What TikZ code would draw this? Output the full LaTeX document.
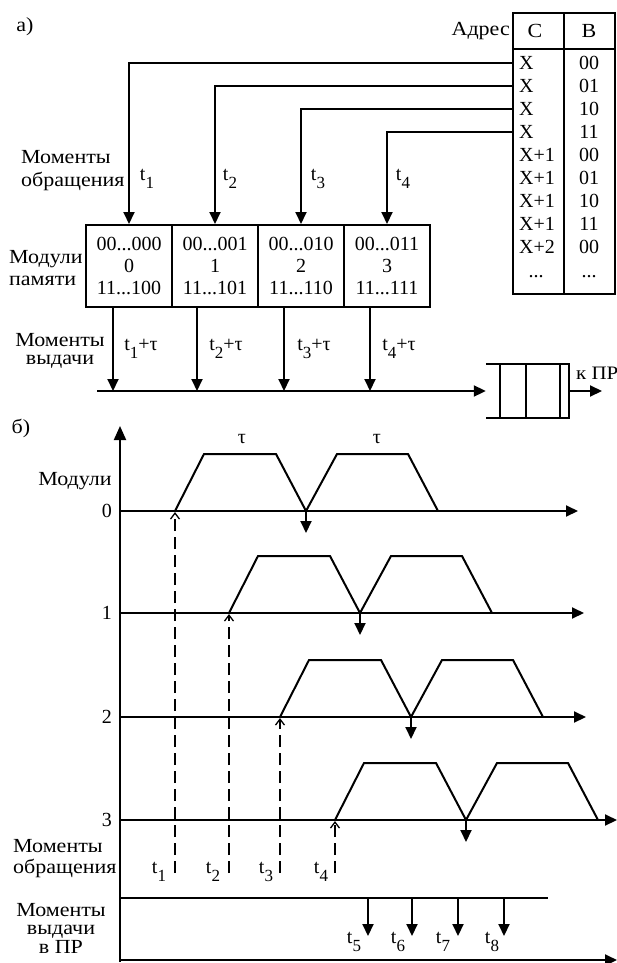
\documentclass[tikz,border=0pt]{standalone}
\usepackage{fontspec}
\setmainfont{Liberation Serif}
\newfontfamily\cyr{Liberation Serif}[FakeStretch=1.1]
\usetikzlibrary{arrows.meta}
\newcommand\tsub[1]{\raisebox{-0.38em}{\fontsize{17}{17}\selectfont #1}}
\begin{document}
\begin{tikzpicture}[x=1pt,y=-1pt,
  every node/.style={inner sep=0pt,font=\fontsize{20}{22}\selectfont},
  ln/.style={line width=2pt},
  arr/.style={ln,-{Triangle[length=12pt,width=11pt]}},
  barb/.style={line width=1.5pt,dash pattern=on 12pt off 6pt,-{Straight Barb[length=6pt,width=9pt,line width=1.3pt]}},
  modbox/.style={draw,ln,minimum width=86pt,minimum height=82pt,align=center},
  cy/.style={font=\cyr\fontsize{20}{#1}\selectfont},
  cy/.default=22,
  wave/.style={ln,line join=miter}]
\useasboundingbox (0,0) rectangle (617,963);

% ---------------- part a ----------------
\node[cy] (la) at (25,27) {а)};

% table
\coordinate (tl) at (513,13);
\draw[ln] (tl) rectangle (615,294);
\draw[ln] (564,13) -- (564,294);
\draw[ln] (513,49) -- (615,49);
\node[cy,anchor=east] (adr) at (510,31) {Адрес};
\node[cy] (hc) at (535,31) {С};
\node[cy] (hb) at (589,31) {В};
\foreach \i/\y/\c/\b in {1/63/X/00,2/86/X/01,3/109/X/10,4/132/X/11,5/155/X+1/00,6/178/X+1/01,7/201/X+1/10,8/224/X+1/11,9/247/X+2/00}{
  \node[anchor=west] (c\i) at (519,\y) {\c};
  \node (b\i) at (589,\y) {\b};
}
\node[anchor=base,text height=3pt,text depth=0pt] (c10) at (536,277) {...};
\node[anchor=base,text height=3pt,text depth=0pt] (b10) at (589,277) {...};

% memory modules
\node[modbox] (m0) at (129,266) {00...000\\0\\11...100};
\node[modbox] (m1) at (215,266) {00...001\\1\\11...101};
\node[modbox] (m2) at (301,266) {00...010\\2\\11...110};
\node[modbox] (m3) at (387,266) {00...011\\3\\11...111};

% address lines
\draw[arr] (c1.west -| tl) -| (m0.north);
\draw[arr] (c2.west -| tl) -| (m1.north);
\draw[arr] (c3.west -| tl) -| (m2.north);
\draw[arr] (c4.west -| tl) -| (m3.north);

\node[cy=23,anchor=west,align=left] (mo1) at (21,171) {Моменты\\обращения};
\node (t1a) at (147,179) {t\tsub{1}};
\node (t2a) at (230,179) {t\tsub{2}};
\node (t3a) at (318,179) {t\tsub{3}};
\node (t4a) at (403,179) {t\tsub{4}};
\node[cy,anchor=west,align=left] (mp) at (9,268) {Модули\\памяти};

% output lines
\coordinate (o0) at (113,391);
\coordinate (o1) at (197,391);
\coordinate (o2) at (284,391);
\coordinate (o3) at (370,391);
\draw[arr] (m0.south -| o0) -- (o0);
\draw[arr] (m1.south -| o1) -- (o1);
\draw[arr] (m2.south -| o2) -- (o2);
\draw[arr] (m3.south -| o3) -- (o3);
\node[cy=18.5,align=center] (mv1) at (60,351) {Моменты\\выдачи};
\node (u1) at (141,349) {t\tsub{1}+τ};
\node (u2) at (226,349) {t\tsub{2}+τ};
\node (u3) at (314,349) {t\tsub{3}+τ};
\node (u4) at (399,349) {t\tsub{4}+τ};

% queue
\node[minimum width=83pt,minimum height=54pt] (q) at (527.5,391) {};
\coordinate (bus) at (97,391);
\draw[arr] (bus) -- (q.west);
\draw[ln] (q.north west) -- (q.north east) -- (q.south east) -- (q.south west);
\draw[ln] (500,364) -- (500,418);
\draw[ln] (526,364) -- (526,418);
\draw[ln] (560,364) -- (560,418);
\coordinate (qo) at (602,391);
\draw[arr] (q.east) -- (qo);
\node[anchor=west,font=\cyr\fontsize{19}{20}\selectfont] (kpr) at (576,373) {к ПР};

% ---------------- part b ----------------
\node[cy] (lb) at (21,428) {б)};
\coordinate (ax0) at (120,962);
\coordinate (axt) at (120,426);
\coordinate (axr) at (617,960);
\draw[ln,-{Triangle[length=14pt,width=12pt]}] (ax0) -- (axt);
\draw[arr] (119,960) -- (axr);
\node (tau1) at (242,439) {τ};
\node (tau2) at (377,439) {τ};
\node[cy] (mod) at (75,481) {Модули};

% rows: label, axis, waveform, valley arrow, dashed access arrow
\foreach \k/\y/\s/\e in {0/511/175/578,1/613/229/584,2/717/280/586,3/820/335/617}{
  \node[anchor=east] (r\k) at (112,\y) {\k};
  \coordinate (re\k) at (\e,\y);
  \draw[arr] (r\k.east -| ax0) -- (re\k);
  \pgfmathsetmacro\ya{\y-57}
  \draw[wave] (\s,\y) -- (\s+29,\ya) -- (\s+101,\ya) -- (\s+131,\y) -- (\s+162,\ya) -- (\s+233,\ya) -- (\s+263,\y);
  \coordinate (v\k) at (\s+131,\y+22);
  \draw[arr] (\s+131,\y) -- (v\k);
  \coordinate (d\k) at (\s,873);
  \draw[barb] (d\k) -- (\s,\y+1);
}

\node[cy=21,anchor=west,align=left] (mo2) at (13,859) {Моменты\\обращения};
\node (t1b) at (159,872) {t\tsub{1}};
\node (t2b) at (213,872) {t\tsub{2}};
\node (t3b) at (266,872) {t\tsub{3}};
\node (t4b) at (321,872) {t\tsub{4}};

\coordinate (hl0) at (120,898);
\coordinate (hl1) at (548,898);
\draw[ln] (hl0) -- (hl1);
\foreach \n/\x/\lx in {5/368/354,6/412/398,7/458/443,8/504/492}{
  \coordinate (w\n) at (\x,936);
  \draw[arr] (\x,898) -- (w\n);
  \node (t\n) at (\lx,942) {t\tsub{\n}};
}
\node[cy=18.5,align=center] (mv2) at (61,928) {Моменты\\выдачи\\в ПР};
\end{tikzpicture}
\end{document}
